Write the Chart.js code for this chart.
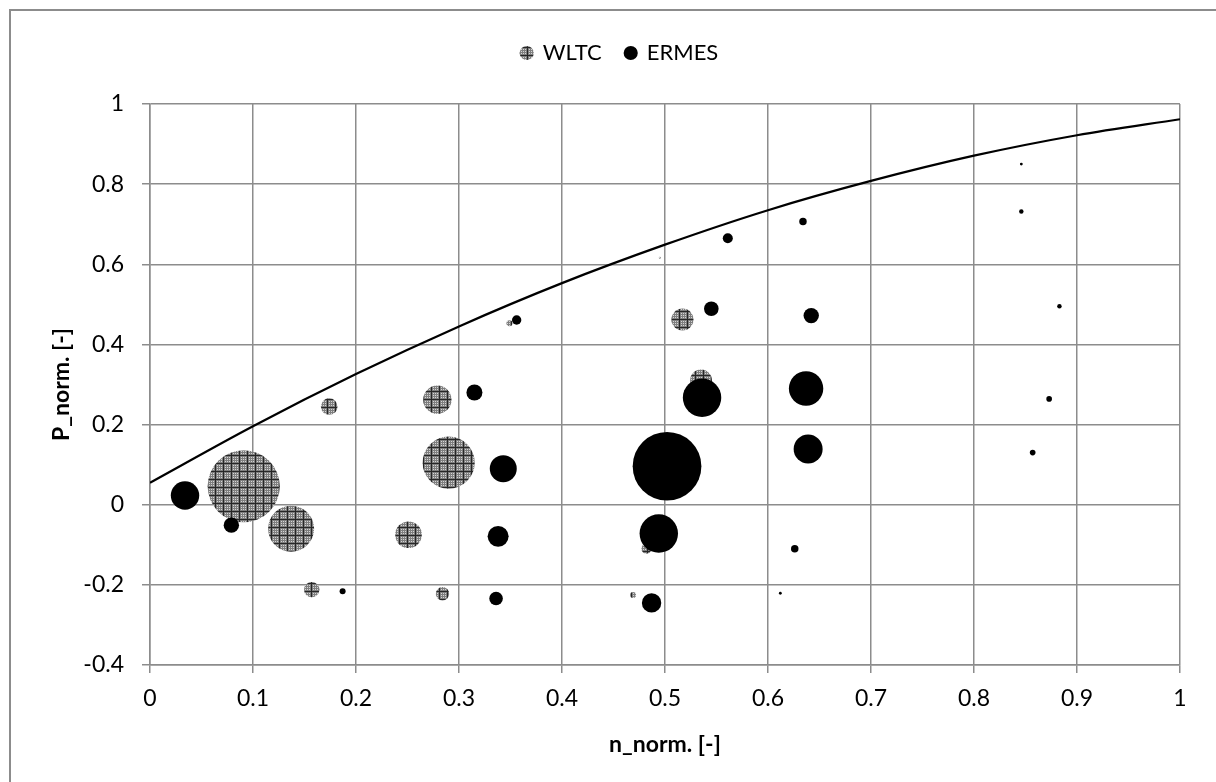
<!DOCTYPE html>
<html>
<head>
<meta charset="utf-8">
<title>Operating points</title>
<script src="https://cdn.jsdelivr.net/npm/chart.js@4.4.1/dist/chart.umd.min.js"></script>
<style>
  html, body { margin: 0; padding: 0; background: #ffffff; }
  canvas { display: block; }
</style>
</head>
<body>
<canvas id="chart" width="1216" height="782"></canvas>
<script>
// Full-load curve (normalised speed vs. normalised power)
const fullLoadN = [0, 0.1, 0.2, 0.3, 0.4, 0.5, 0.6, 0.7, 0.8, 0.9, 1.0];
const fullLoadP = [0.055, 0.196, 0.326, 0.445, 0.553, 0.649, 0.735, 0.808, 0.871, 0.922, 0.962];

// WLTC operating points: normalised speed, normalised power, time share [%]
const wltcN     = [0.091, 0.137, 0.174, 0.157, 0.251, 0.279, 0.290, 0.284, 0.349, 0.495, 0.517, 0.535, 0.482, 0.469];
const wltcP     = [0.046, -0.060, 0.245, -0.212, -0.075, 0.262, 0.105, -0.222, 0.453, 0.616, 0.462, 0.310, -0.110, -0.225];
const wltcShare = [13.0, 5.3, 0.69, 0.59, 1.77, 2.0, 6.8, 0.45, 0.09, 0.01, 1.21, 1.2, 0.25, 0.09];

// ERMES operating points: normalised speed, normalised power, time share [%]
const ermesN     = [0.034, 0.079, 0.187, 0.315, 0.343, 0.338, 0.336, 0.356, 0.502, 0.494, 0.487, 0.536, 0.545,
                    0.561, 0.634, 0.642, 0.637, 0.639, 0.626, 0.612, 0.846, 0.846, 0.883, 0.873, 0.857];
const ermesP     = [0.023, -0.051, -0.216, 0.280, 0.090, -0.079, -0.234, 0.461, 0.096, -0.072, -0.245, 0.267, 0.489,
                    0.665, 0.707, 0.472, 0.290, 0.139, -0.110, -0.221, 0.850, 0.732, 0.495, 0.264, 0.130];
const ermesShare = [2.02, 0.59, 0.09, 0.64, 1.82, 1.10, 0.46, 0.22, 11.8, 3.69, 0.94, 3.69, 0.53,
                    0.25, 0.14, 0.59, 2.96, 2.10, 0.14, 0.02, 0.02, 0.05, 0.05, 0.08, 0.08];

// Axis ticks
const xTicks = [0, 0.1, 0.2, 0.3, 0.4, 0.5, 0.6, 0.7, 0.8, 0.9, 1];
const yTicks = [-0.4, -0.2, 0, 0.2, 0.4, 0.6, 0.8, 1];

const FONT = 'Lato, "Liberation Sans", sans-serif';
const GRID = '#8c8c8c';

// bubble area proportional to time share
const bubbleRadius = share => 10 * Math.sqrt(share);

const canvas = document.getElementById('chart');
const ctx = canvas.getContext('2d');

// grey dotted fill with a dark cross-hatch for the WLTC bubbles
function hatchPattern() {
  const tile = document.createElement('canvas');
  tile.width = 8; tile.height = 8;
  const g = tile.getContext('2d');
  g.fillStyle = '#7e7e7e';
  g.fillRect(0, 0, 8, 8);
  g.fillStyle = '#d4d4d4';
  for (let i = 1; i < 7; i += 2) for (let j = 1; j < 7; j += 2) g.fillRect(i, j, 1, 1);
  g.fillStyle = '#262626';
  g.fillRect(7, 0, 1, 8);
  g.fillRect(0, 7, 8, 1);
  return ctx.createPattern(tile, 'repeat');
}

// keeps a fixed band above the plot area for the legend
const legendSpace = {
  id: 'legendSpace',
  beforeLayout(chart) {
    const lg = chart.legend;
    if (lg && !lg.__fitWrapped) {
      const fit = lg.fit;
      lg.fit = function () { fit.call(this); this.height = 86; };
      lg.__fitWrapped = true;
    }
  }
};

// thin grey outline round the chart
const outerFrame = {
  id: 'outerFrame',
  beforeDraw(chart) {
    const c = chart.ctx;
    c.save();
    c.strokeStyle = GRID;
    c.lineWidth = 2;
    c.strokeRect(10, 10, chart.width + 20, chart.height + 20);
    c.restore();
  }
};

function draw() {
  const hatch = hatchPattern();
  const toPoints = (xs, ys, shares) => xs.map((x, i) => ({ x, y: ys[i], r: bubbleRadius(shares[i]) }));

  new Chart(ctx, {
    type: 'bubble',
    data: {
      datasets: [
        {
          label: 'WLTC',
          data: toPoints(wltcN, wltcP, wltcShare),
          backgroundColor: hatch,
          borderWidth: 0,
          order: 2
        },
        {
          label: 'ERMES',
          data: toPoints(ermesN, ermesP, ermesShare),
          backgroundColor: '#000000',
          borderWidth: 0,
          order: 1
        },
        {
          type: 'line',
          label: 'Full load',
          data: fullLoadN.map((x, i) => ({ x, y: fullLoadP[i] })),
          borderColor: '#000000',
          borderWidth: 2.2,
          pointRadius: 0,
          fill: false,
          cubicInterpolationMode: 'monotone',
          order: 0
        }
      ]
    },
    options: {
      responsive: false,
      animation: false,
      events: [],
      layout: { padding: { left: 24, right: 0, top: 18, bottom: 0 } },
      plugins: {
        tooltip: { enabled: false },
        legend: {
          position: 'top',
          labels: {
            usePointStyle: true,
            pointStyle: 'circle',
            boxWidth: 10,
            boxHeight: 10,
            padding: 24,
            color: '#000000',
            font: { family: FONT, size: 22 },
            filter: item => item.datasetIndex !== 2,
            sort: (a, b) => a.datasetIndex - b.datasetIndex
          }
        }
      },
      scales: {
        x: {
          type: 'linear',
          min: 0,
          max: 1,
          afterBuildTicks: s => { s.ticks = xTicks.map(v => ({ value: v })); },
          ticks: {
            color: '#000000',
            font: { family: FONT, size: 23 },
            padding: 12,
            maxRotation: 0,
            callback: v => String(+v.toFixed(1))
          },
          grid: { color: GRID, lineWidth: 1.5, tickLength: 8 },
          border: { color: GRID, width: 1.5 },
          title: {
            display: true,
            text: 'n_norm. [-]',
            color: '#000000',
            font: { family: FONT, size: 23, weight: 'bold' },
            padding: { top: 0, bottom: 24 }
          },
          afterFit: s => { s.height = 117; }
        },
        y: {
          type: 'linear',
          min: -0.4,
          max: 1,
          afterBuildTicks: s => { s.ticks = yTicks.map(v => ({ value: v })); },
          ticks: {
            color: '#000000',
            font: { family: FONT, size: 23 },
            padding: 18,
            callback: v => String(+v.toFixed(1))
          },
          grid: { color: GRID, lineWidth: 1.5, tickLength: 8 },
          border: { color: GRID, width: 1.5 },
          title: {
            display: true,
            text: 'P_norm. [-]',
            color: '#000000',
            font: { family: FONT, size: 23, weight: 'bold' },
            padding: { top: 24, bottom: 0 }
          },
          afterFit: s => { s.width = 126; }
        },
        yRight: {
          type: 'linear',
          position: 'right',
          display: true,
          ticks: { display: false },
          grid: { display: false },
          border: { display: false },
          afterFit: s => { s.width = 32; }
        }
      }
    },
    plugins: [legendSpace, outerFrame]
  });
}

const fontsReady = document.fonts && document.fonts.load
  ? Promise.all([document.fonts.load('22px Lato'), document.fonts.load('bold 22px Lato')]).catch(() => {})
  : Promise.resolve();
fontsReady.then(draw);
</script>
</body>
</html>
